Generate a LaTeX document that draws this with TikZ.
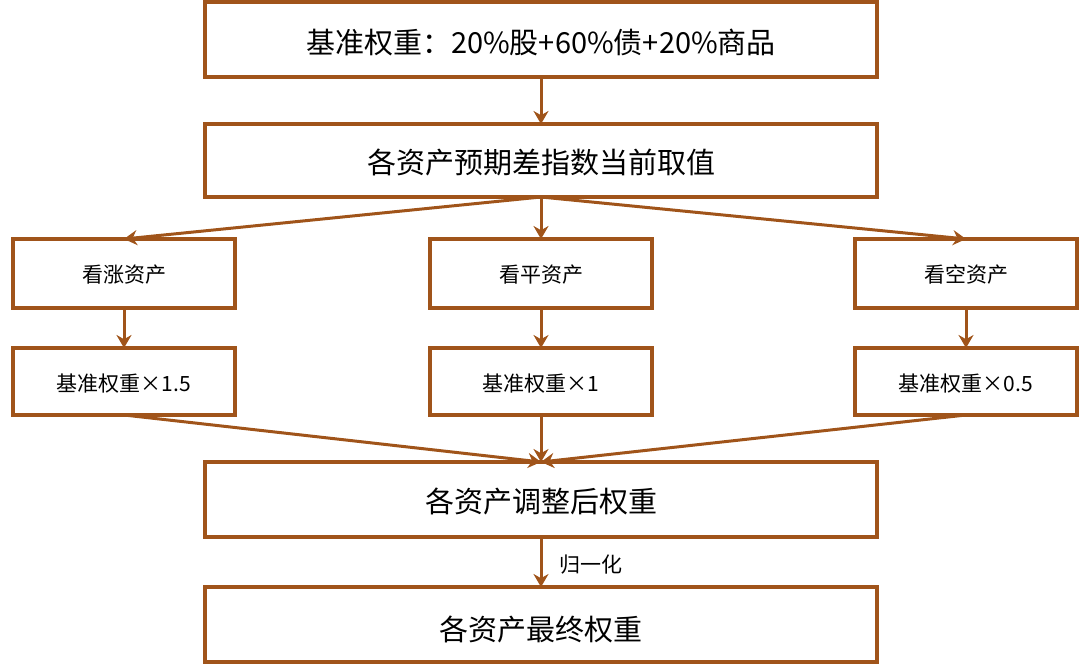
\documentclass[tikz,border=0pt]{standalone}
\usepackage{fontspec}
\setmainfont{Noto Sans CJK SC}
\usetikzlibrary{arrows.meta}
\definecolor{br}{HTML}{A0541A}
\begin{document}
\begin{tikzpicture}[x=1pt,y=-1pt,
  bx/.style={draw=br,line width=3.5pt,inner sep=0pt},
  big/.style={font=\fontsize{29}{32}\selectfont},
  sm/.style={font=\fontsize{21}{25}\selectfont},
  ar/.style={draw=br,line width=3pt,-{Stealth[length=13pt,width=15pt]}}]
\useasboundingbox (0,0) rectangle (1080,669);
\draw[bx] (205,2) rectangle (877,77);
\node[big] (a) at (541,42) {基准权重：20\%股+60\%债+20\%商品};
\coordinate (ab) at (541,77);
\draw[bx] (205,124) rectangle (877,197);
\node[big] (b) at (541,162) {各资产预期差指数当前取值};
\coordinate (bt) at (541,124); \coordinate (bb) at (541,197);
\foreach \n/\cx/\t/\u in {l/124/看涨资产/基准权重×1.5, m/541/看平资产/基准权重×1, r/966/看空资产/基准权重×0.5}{
  \draw[bx] (\cx-111,239) rectangle (\cx+111,308);
  \node[sm] (\n1) at (\cx,275) {\t};
  \coordinate (\n1t) at (\cx,239); \coordinate (\n1b) at (\cx,308);
  \draw[bx] (\cx-111,348) rectangle (\cx+111,415);
  \node[sm] (\n2) at (\cx,384) {\u};
  \coordinate (\n2t) at (\cx,348); \coordinate (\n2b) at (\cx,415);
  \draw[ar] (\n1b) -- (\n2t);
  \draw[ar] (bb) -- (\n1t);
}
\draw[bx] (205,462) rectangle (877,537);
\node[big] (c) at (541,501) {各资产调整后权重};
\coordinate (ct) at (541,462); \coordinate (cb) at (541,537);
\draw[bx] (205,587) rectangle (877,662);
\node[big] (d) at (541,629) {各资产最终权重};
\coordinate (dt) at (541,587);
\draw[ar] (ab) -- (bt);
\foreach \n in {l,m,r} \draw[ar] (\n2b) -- (ct);
\draw[ar] (cb) -- (dt);
\node[sm,anchor=west] (g) at (556,565) {归一化};
\end{tikzpicture}
\end{document}
